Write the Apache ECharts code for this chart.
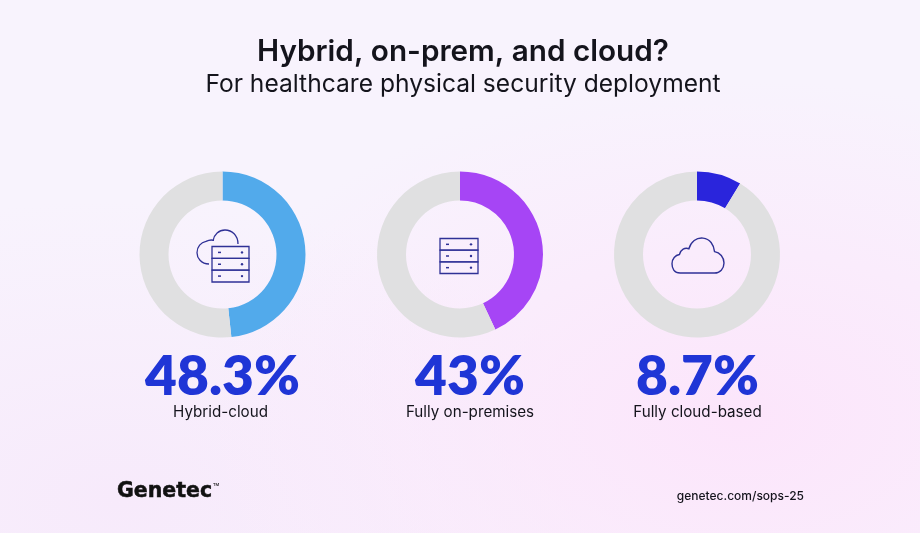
<!DOCTYPE html>
<html>
<head>
<meta charset="utf-8">
<title>Hybrid, on-prem, and cloud?</title>
<style>
  html, body { margin: 0; padding: 0; }
  body {
    width: 920px; height: 533px; overflow: hidden;
    background:
      radial-gradient(ellipse 560px 340px at 740px 420px, #fce5fb 0%, rgba(252,229,251,0) 100%),
      radial-gradient(ellipse 520px 300px at 120px 500px, #f7eafb 0%, rgba(247,234,251,0) 100%),
      #f8f3fd;
  }
  #chart { width: 920px; height: 533px; }
</style>
<script src="https://cdn.jsdelivr.net/npm/echarts@6/dist/echarts.min.js"></script>
</head>
<body>
<div id="chart"></div>
<script>
const categories = ['Hybrid-cloud', 'Fully on-premises', 'Fully cloud-based']
const shares = [48.3, 43, 8.7]
const shareLabels = ['48.3%', '43%', '8.7%']
const ringColors = ['#52aaeb', '#a645f5', '#2a25dc']
const centerX = [222.5, 460, 697]
const captionX = [222.5, 470, 697.5]

const titleText = 'Hybrid, on-prem, and cloud?'
const subtitleText = 'For healthcare physical security deployment'
const footerUrl = 'genetec.com/sops-25'

const restColor = '#e0e0e1'
const iconColor = '#2f3196'
const blue = '#1f35d6'
const ink = '#14141c'
const font = 'Inter, "Noto Sans", sans-serif'

const myChart = echarts.init(document.getElementById('chart'), null, { renderer: 'canvas' })

// one ring per category, the grey part is whatever is left of 100
const series = shares.map((v, i) => ({
  type: 'pie',
  radius: [54, 83],
  center: [centerX[i], 254.5],
  startAngle: 90,
  silent: true,
  label: { show: false },
  labelLine: { show: false },
  data: [
    { name: categories[i], value: v, itemStyle: { color: ringColors[i] } },
    { name: 'Other', value: 100 - v, itemStyle: { color: restColor } }
  ]
}))

function text(x, y, str, size, weight, color, align, extra) {
  return {
    type: 'text', x, y, silent: true,
    style: Object.assign({
      text: str, font: weight + ' ' + size + 'px ' + font,
      fill: color, align: align || 'center', verticalAlign: 'middle'
    }, extra)
  }
}

const line = { stroke: iconColor, fill: 'transparent', lineWidth: 1.3 }

// rack of 3 units, used by the first two icons
function rack(x, y, w, h) {
  const unit = h / 3
  const out = []
  for (let i = 0; i < 3; i++) {
    const top = y + i * unit
    out.push({ type: 'rect', shape: { x, y: top, width: w, height: unit }, style: line })
    out.push({ type: 'line', shape: { x1: x + 6, y1: top + unit / 2, x2: x + 9, y2: top + unit / 2 }, style: { stroke: iconColor, lineWidth: 1.5 } })
    out.push({ type: 'circle', shape: { cx: x + w - 7, cy: top + unit / 2, r: 1.2 }, style: { fill: iconColor } })
  }
  return out
}

const cloudPath = 'M12 50 C3 50 0 43 0 37 C0 30 5 25 11 24 C13 17 19 14 25 16 C28 6 36 0 46 1 C56 2 62 10 63 20 C71 21 77 28 77 36 C77 44 71 50 63 50 Z'
const backCloudPath = 'M12 24 C4 24 0 18 0 13 C0 7 4 3 9 2 C11 1 14 0 17 1'
const topCloudPath = 'M0 10 C1 4 6 0 12 0 C19 0 25 5 25 13'

// the graphic component has no path type, a custom series does
const icons = [
  { type: 'path', shape: { pathData: topCloudPath, x: 213, y: 230, width: 25, height: 14, layout: 'cover' }, style: line },
  { type: 'path', shape: { pathData: backCloudPath, x: 197, y: 240, width: 17, height: 24, layout: 'cover' }, style: line },
  ...rack(212, 246.5, 37, 35.5),
  ...rack(440, 238.5, 38, 35),
  { type: 'path', shape: { pathData: cloudPath, x: 672, y: 238, width: 52, height: 35, layout: 'cover' }, style: Object.assign({}, line, { lineWidth: 1.4 }) }
]
series.push({
  type: 'custom',
  coordinateSystem: 'none',
  silent: true,
  data: [0],
  renderItem: () => ({ type: 'group', children: icons })
})

const labels = []
shareLabels.forEach((s, i) => {
  labels.push(text(captionX[i], 377, s, 55, 800, blue, 'center', { font: '800 55px Lato, sans-serif' }))
  labels.push(text(captionX[i] - (i === 0 ? 2 : 0), 412, categories[i], 15.2, 400, ink))
})

myChart.setOption({
  animation: false,
  backgroundColor: 'transparent',
  series,
  graphic: [
    text(463, 52, titleText, 29.7, 600, ink),
    text(463, 85, subtitleText, 24.6, 400, ink),
    ...labels,
    text(117, 492, 'Genetec', 20.5, 800, '#111111', 'left', { font: '800 20.5px "DejaVu Sans", sans-serif', stroke: '#111111', lineWidth: 0.5 }),
    text(213, 485, 'TM', 4, 500, '#111111', 'left'),
    text(804, 496, footerUrl, 12, 500, ink, 'right')
  ]
})

window.onresize = function () {
  myChart.resize()
}
</script>
</body>
</html>
